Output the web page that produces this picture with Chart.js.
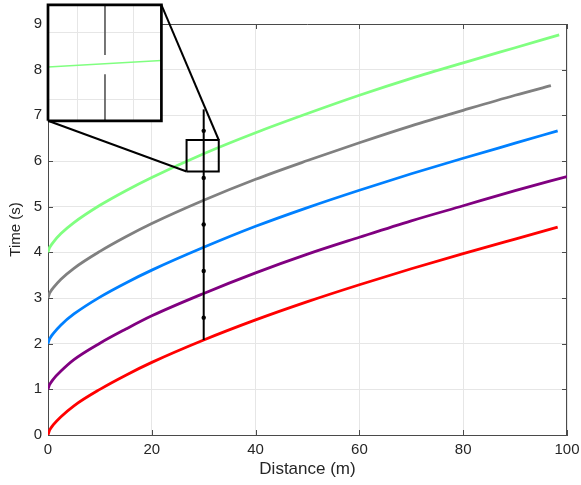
<!DOCTYPE html>
<html><head><meta charset="utf-8">
<script src="https://cdn.jsdelivr.net/npm/chart.js@4.4.1/dist/chart.umd.min.js"></script>
<style>html,body{margin:0;padding:0;background:#fff}</style>
</head><body>
<canvas id="c" width="581" height="485"></canvas>
<script>
// ---- data ----
const distance = [0, 0.25, 0.5, 1, 2.5, 5, 10, 15, 20, 30, 40, 50, 60, 70, 80, 90];
const endDistance = [98.2, 100, 98.2, 96.9, 98.5]; // red, purple, blue, gray, green
const timeRed    = [0.00, 0.09, 0.14, 0.22, 0.40, 0.64, 1.00, 1.31, 1.59, 2.08, 2.52, 2.92, 3.29, 3.64, 3.97, 4.29, 4.55];
const timePurple = [1.00, 1.09, 1.14, 1.22, 1.40, 1.65, 2.01, 2.32, 2.61, 3.10, 3.55, 3.96, 4.33, 4.69, 5.02, 5.35, 5.66];
const timeBlue   = [2.00, 2.09, 2.14, 2.22, 2.41, 2.65, 3.02, 3.33, 3.61, 4.11, 4.57, 4.98, 5.36, 5.72, 6.06, 6.39, 6.66];
const timeGray   = [3.00, 3.09, 3.14, 3.22, 3.41, 3.65, 4.02, 4.34, 4.63, 5.14, 5.60, 6.01, 6.40, 6.77, 7.11, 7.44, 7.65];
const timeGreen  = [4.00, 4.09, 4.14, 4.22, 4.41, 4.65, 5.03, 5.35, 5.64, 6.16, 6.62, 7.04, 7.44, 7.81, 8.15, 8.48, 8.76];

const markerDistance = 30;
const markerTimes = [2.08, 2.57, 3.59, 4.61, 5.63, 6.66, 7.13];

const zoomX = [26.7, 32.9];
const zoomY = [5.77, 6.46];
const insetX = [0, 21.85];
const insetY = [6.88, 9.42];
const insetGridX = [5.53, 16.43];
const insetGridY = [7.36, 8.82];
const insetGreenX = [0, 21.85];
const insetGreenY = [8.06, 8.20];
const insetLineX = 10.98;
const insetLineY = [9.42, 8.32, null, 7.90, 6.88];

const xTicks = [0, 20, 40, 60, 80, 100];
const yTicks = [0, 1, 2, 3, 4, 5, 6, 7, 8, 9];

// ---- build datasets ----
function pts(xs, ys) { return ys.map((y, i) => ({ x: xs[i], y })); }
const curveX = i => distance.concat([endDistance[i]]);

const curves = [
  { label: 'red', t: timeRed, c: '#ff0000', i: 0 },
  { label: 'purple', t: timePurple, c: '#800080', i: 1 },
  { label: 'blue', t: timeBlue, c: '#0080ff', i: 2 },
  { label: 'gray', t: timeGray, c: '#808080', i: 3 },
  { label: 'green', t: timeGreen, c: '#80ff80', i: 4 }
].map(s => ({
  label: s.label,
  data: pts(curveX(s.i), s.t),
  borderColor: s.c, borderWidth: 2.8, pointRadius: 0, showLine: true,
  cubicInterpolationMode: 'monotone', order: 10
}));

const datasets = curves.concat([
  { label: 'marker line', data: markerTimes.map(t => ({ x: markerDistance, y: t })),
    borderColor: '#000', borderWidth: 2, showLine: true,
    pointRadius: markerTimes.map((t, i) => (i === 0 || i === markerTimes.length - 1) ? 0 : 2.2),
    pointBackgroundColor: '#000', pointBorderWidth: 0, order: 5 },
  { label: 'zoom box', data: pts([zoomX[0], zoomX[1], zoomX[1], zoomX[0], zoomX[0]], [zoomY[0], zoomY[0], zoomY[1], zoomY[1], zoomY[0]]),
    borderColor: '#000', borderWidth: 2, showLine: true, pointRadius: 0, order: 4, clip: false },
  { label: 'connector 1', data: pts([insetX[0], zoomX[0]], [insetY[0], zoomY[0]]),
    borderColor: '#000', borderWidth: 2, showLine: true, pointRadius: 0, order: 3, clip: false },
  { label: 'connector 2', data: pts([insetX[1], zoomX[1]], [insetY[1], zoomY[1]]),
    borderColor: '#000', borderWidth: 2, showLine: true, pointRadius: 0, order: 3, clip: false },
  { label: 'inset green', data: pts(insetGreenX, insetGreenY),
    borderColor: '#80ff80', borderWidth: 1.5, showLine: true, pointRadius: 0, order: 2, clip: false },
  { label: 'inset line', data: insetLineY.map(y => ({ x: insetLineX, y })),
    borderColor: '#555', borderWidth: 1.6, showLine: true, spanGaps: false, pointRadius: 0, order: 1, clip: false },
  { label: 'inset box', data: pts([insetX[0], insetX[1], insetX[1], insetX[0], insetX[0]], [insetY[0], insetY[0], insetY[1], insetY[1], insetY[0]]),
    borderColor: '#000', borderWidth: 2.7, showLine: true, pointRadius: 0, order: 0, clip: false, borderJoinStyle: 'miter' }
]);

const frameColor = '#4a4a4a';
const framePlugin = {
  id: 'frame',
  beforeDatasetsDraw(chart) {
    const { ctx, chartArea: a, scales: { x, y } } = chart;
    ctx.save();
    ctx.strokeStyle = frameColor;
    ctx.lineWidth = 1;
    ctx.beginPath();
    ctx.moveTo(a.left, a.top + 0.5); ctx.lineTo(a.right, a.top + 0.5);
    ctx.moveTo(a.right - 0.5, a.top); ctx.lineTo(a.right - 0.5, a.bottom);
    xTicks.forEach(v => {
      const p = Math.round(x.getPixelForValue(v)) + 0.5;
      ctx.moveTo(p, a.bottom); ctx.lineTo(p, a.bottom - 5);
      ctx.moveTo(p, a.top); ctx.lineTo(p, a.top + 5);
    });
    yTicks.forEach(v => {
      const p = Math.round(y.getPixelForValue(v)) + 0.5;
      ctx.moveTo(a.left, p); ctx.lineTo(a.left + 5, p);
      ctx.moveTo(a.right, p); ctx.lineTo(a.right - 5, p);
    });
    ctx.stroke();
    // inset background and its grid
    const l = x.getPixelForValue(insetX[0]), r = x.getPixelForValue(insetX[1]);
    const t = y.getPixelForValue(insetY[1]), b = y.getPixelForValue(insetY[0]);
    ctx.fillStyle = '#fff';
    ctx.fillRect(l, t, r - l, b - t);
    ctx.strokeStyle = '#e6e6e6';
    ctx.beginPath();
    insetGridX.forEach(v => { const p = Math.round(x.getPixelForValue(v)) + 0.5; ctx.moveTo(p, t); ctx.lineTo(p, b); });
    insetGridY.forEach(v => { const p = Math.round(y.getPixelForValue(v)) + 0.5; ctx.moveTo(l, p); ctx.lineTo(r, p); });
    ctx.stroke();
    ctx.restore();
  }
};

const font = 'Arial, "Liberation Sans", Helvetica, sans-serif';
new Chart(document.getElementById('c'), {
  type: 'scatter',
  data: { datasets },
  options: {
    responsive: false, animation: false, devicePixelRatio: 1,
    layout: { padding: { top: 24, right: 14, bottom: 0, left: 0 } },
    plugins: { legend: { display: false }, tooltip: { enabled: false } },
    scales: {
      x: {
        type: 'linear', min: 0, max: 100,
        afterBuildTicks: s => { s.ticks = xTicks.map(v => ({ value: v })); },
        afterFit: s => { s.height = 50; s.paddingLeft = 0; s.paddingRight = 0; },
        ticks: { color: '#262626', font: { family: font, size: 15 }, padding: 6, maxRotation: 0 },
        grid: { color: '#e6e6e6', drawTicks: false },
        border: { display: true, color: frameColor, width: 1 },
        title: { display: true, text: 'Distance (m)', color: '#262626', font: { family: font, size: 17 }, padding: { top: 0, bottom: 5 } }
      },
      y: {
        type: 'linear', min: 0, max: 9,
        afterBuildTicks: s => { s.ticks = yTicks.map(v => ({ value: v })); },
        afterFit: s => { s.width = 48; s.paddingTop = 0; s.paddingBottom = 0; },
        ticks: { color: '#262626', font: { family: font, size: 15 }, padding: 6 },
        grid: { color: '#e6e6e6', drawTicks: false },
        border: { display: true, color: frameColor, width: 1 },
        title: { display: true, text: 'Time (s)', color: '#262626', font: { family: font, size: 15 }, padding: { top: 7, bottom: 0 } }
      }
    }
  },
  plugins: [framePlugin]
});
</script>
</body></html>
